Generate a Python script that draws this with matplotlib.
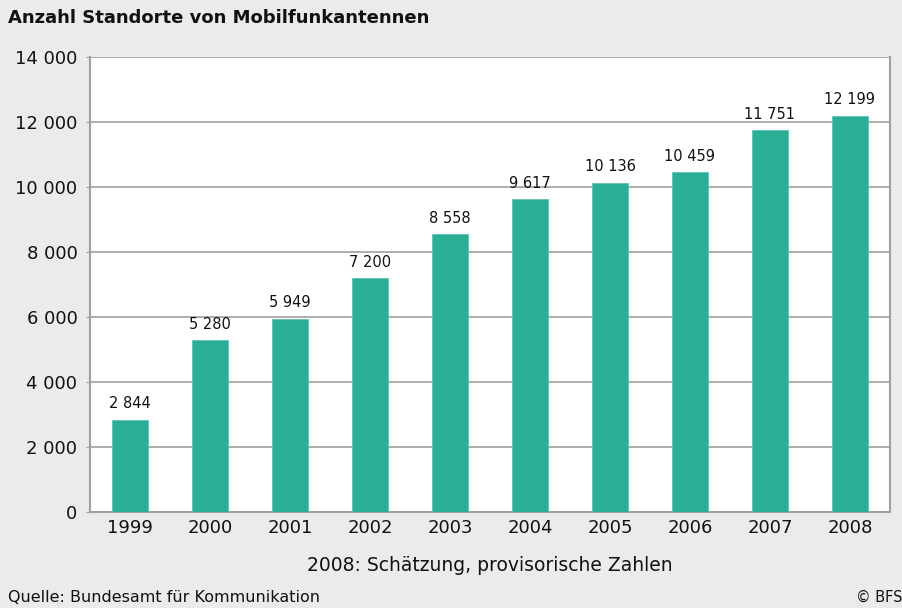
import matplotlib
matplotlib.use("Agg")
import matplotlib.pyplot as plt

years = ["1999", "2000", "2001", "2002", "2003", "2004", "2005", "2006", "2007", "2008"]
values = [2844, 5280, 5949, 7200, 8558, 9617, 10136, 10459, 11751, 12199]
yticks = [0, 2000, 4000, 6000, 8000, 10000, 12000, 14000]
ytick_labels = ["0", "2 000", "4 000", "6 000", "8 000", "10 000", "12 000", "14 000"]

def fmt(v):
    return f"{v:,}".replace(",", " ")

plt.rcParams['font.family'] = ['DejaVu Sans']
bg = "#ebebeb"
grid = "#a0a0a0"
fig = plt.figure(figsize=(9.03, 6.08), dpi=100, facecolor=bg)
ax = fig.add_axes([90/903, 1-512/608, 800/903, (512-57)/608])
ax.set_facecolor("white")

x = range(len(years))
bars = ax.bar(x, values, width=0.45, color="#2aae96", edgecolor="#5cc4b0", linewidth=0.6, zorder=3)
for xi, v in zip(x, values):
    ax.annotate(fmt(v), (xi, v), xytext=(0, 6), textcoords="offset points",
                ha="center", va="bottom", fontsize=10.5, color="#111111")

ax.set_xlim(-0.5, len(years) - 0.5)
ax.set_ylim(0, 14000)
ax.set_yticks(yticks)
ax.set_yticklabels(ytick_labels)
ax.set_xticks(list(x))
ax.set_xticklabels(years)
ax.tick_params(axis="y", length=3, color=grid, labelsize=13, pad=6, labelcolor="#111111")
ax.tick_params(axis="x", length=0, labelsize=13, pad=5, labelcolor="#111111")
ax.yaxis.grid(True, color=grid, linewidth=1.2, zorder=0)
for s in ["left", "bottom", "right"]:
    ax.spines[s].set_color(grid)
    ax.spines[s].set_linewidth(1.5)
ax.spines["top"].set_visible(False)

ax.set_xlabel("2008: Schätzung, provisorische Zahlen", fontsize=13.5, labelpad=14, color="#111111")

fig.text(8/903, 1-18/608, "Anzahl Standorte von Mobilfunkantennen", fontsize=13,
         fontweight="bold", ha="left", va="center", color="#111111")
fig.text(8/903, 1-597/608, "Quelle: Bundesamt für Kommunikation", fontsize=11.5,
         ha="left", va="center", color="#111111")
fig.text(903/903, 1-597/608, "© BFS", fontsize=10.5, ha="right", va="center", color="#111111")

fig.savefig("out.png", dpi=100, facecolor=bg)
